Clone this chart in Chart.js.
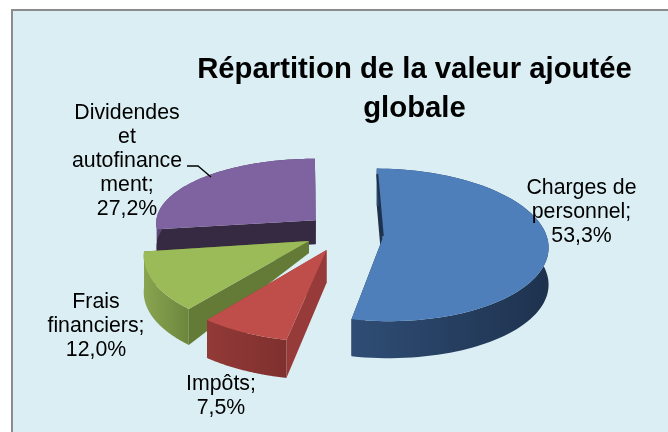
<!DOCTYPE html>
<html><head><meta charset="utf-8">
<script src="https://cdn.jsdelivr.net/npm/chart.js@4"></script>
<style>html,body{margin:0;padding:0;background:#fff}#w{position:absolute;left:0;top:0;width:668px;height:432px}</style>
</head><body><div id="w"><canvas id="c" width="668" height="432"></canvas></div>
<script>
const categories=["Charges de personnel","Impôts","Frais financiers","Dividendes et autofinancement"];
const values=[53.3,7.5,12.0,27.2];
const sliceColors=["#4e7fba","#bf4e4b","#9bba58","#7f62a0"];
const cutColors=["#1e324e","#963b39","#647a37","#352a42"];
const rimLeft=["#2f4d75","#923a38","#89a551","#5c4873"];
const rimRight=["#1e324e","#7f302e","#6c873c","#3f3052"];
const labelLines=[["Charges de","personnel;","53,3%"],["Impôts;","7,5%"],["Frais","financiers;","12,0%"],["Dividendes","et","autofinance","ment;","27,2%"]];
const titleLines=["Répartition de la valeur ajoutée","globale"];
const explode=[43,31.5,35.6,32];
// 3D projection settings per slice
const lift=[0,1,-3,-6];
const radiusScale=[1.0,1.067,0.985,0.97];
const flatten=[0.46,0.472,0.455,0.406];
const perspective=[0.09,0.10,0.198,0.052];
const shear=[6,0,0,1];
const rimDepth=[37,38,36,24];
const tipDepth=[37,33,12,24];
const offsetFlatten=0.46;
const labelX=[581.5,221,96,127];
const labelY=[188,384,302,113];
const lineGap=24;
const order=[3,2,0,1];

function project(a,i,theta,tip){
  const R=a.outerRadius*radiusScale[i],S=R*flatten[i],f=-Math.cos(theta),w=1-perspective[i]*f;
  return [tip[0]+R*Math.sin(theta)/w+shear[i]*f, tip[1]+S*f/w];
}
const pie3d={id:'pie3d',
 beforeDatasetsDraw(chart){
  const ctx=chart.ctx,meta=chart.getDatasetMeta(0);
  order.forEach(i=>{
    const a=meta.data[i];
    const t0=a.startAngle+Math.PI/2,t1=a.endAngle+Math.PI/2,mid=(t0+t1)/2;
    const tip=[a.x+Math.sin(mid)*explode[i], a.y-Math.cos(mid)*explode[i]*offsetFlatten+lift[i]];
    const pts=[];const n=90;
    for(let k=0;k<=n;k++)pts.push(project(a,i,t0+(t1-t0)*k/n,tip));
    const first=pts[0],last=pts[n];
    const minX=Math.min(...pts.map(p=>p[0])),maxX=Math.max(...pts.map(p=>p[0]));
    // cut faces
    ctx.save();ctx.fillStyle=cutColors[i];
    [first,last].forEach(p=>{
      ctx.beginPath();ctx.moveTo(tip[0],tip[1]);ctx.lineTo(p[0],p[1]);
      ctx.lineTo(p[0],p[1]+rimDepth[i]);ctx.lineTo(tip[0],tip[1]+tipDepth[i]);ctx.closePath();ctx.fill();
    });
    // outer wall
    const g=ctx.createLinearGradient(minX,0,maxX,0);
    g.addColorStop(0,rimLeft[i]);g.addColorStop(1,rimRight[i]);
    ctx.fillStyle=g;ctx.beginPath();
    pts.forEach((p,k)=>k?ctx.lineTo(p[0],p[1]):ctx.moveTo(p[0],p[1]));
    for(let k=n;k>=0;k--)ctx.lineTo(pts[k][0],pts[k][1]+rimDepth[i]);
    ctx.closePath();ctx.fill();
    // top surface
    ctx.fillStyle=sliceColors[i];ctx.beginPath();ctx.moveTo(tip[0],tip[1]);
    pts.forEach(p=>ctx.lineTo(p[0],p[1]));ctx.closePath();ctx.fill();
    // dark sliver along the first slice's inner edge
    if(i===0){
      ctx.strokeStyle=cutColors[0];ctx.lineWidth=2;ctx.beginPath();
      ctx.moveTo(first[0]+(tip[0]-first[0])*0.08,first[1]+(tip[1]-first[1])*0.08);
      ctx.lineTo(tip[0],tip[1]-2);ctx.stroke();
    }
    ctx.restore();
  });
  return false;
 },
 afterDraw(chart){
  const ctx=chart.ctx;ctx.save();
  ctx.fillStyle="#000";ctx.textAlign="center";ctx.textBaseline="middle";
  ctx.font="21.3px 'Liberation Sans'";
  labelLines.forEach((l,i)=>l.forEach((t,j)=>ctx.fillText(t,labelX[i],labelY[i]+j*lineGap)));
  ctx.font="bold 29.3px 'Liberation Sans'";
  titleLines.forEach((t,j)=>ctx.fillText(t,414.5,70+j*39));
  ctx.strokeStyle="#000";ctx.lineWidth=1.3;ctx.beginPath();ctx.moveTo(187,166);ctx.lineTo(198,166);ctx.lineTo(211,177);ctx.stroke();
  ctx.restore();
 }};
const frame={id:'frame',beforeDraw(chart){
  const c=chart.ctx;c.save();c.fillStyle="#fff";c.fillRect(0,0,668,432);
  c.fillStyle="#daeef3";c.fillRect(12,9,656,423);
  c.fillStyle="#8c8c8c";c.fillRect(11,9,2,423);c.fillRect(11,9,657,2);c.restore();}};
new Chart(document.getElementById('c'),{type:'pie',
 data:{labels:categories,datasets:[{data:values,backgroundColor:sliceColors,offset:explode,borderWidth:0}]},
 options:{responsive:false,animation:false,
  layout:{padding:{left:12,right:0,top:50,bottom:10}},
  plugins:{legend:{display:false},tooltip:{enabled:false}}},
 plugins:[frame,pie3d]});
</script></body></html>
